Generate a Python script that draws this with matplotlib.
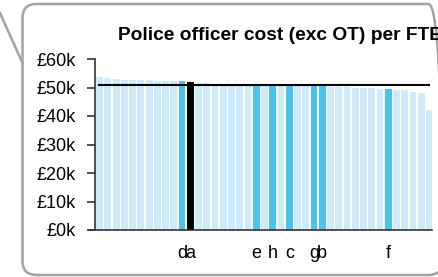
import matplotlib
matplotlib.use("Agg")
import matplotlib.pyplot as plt
from matplotlib.patches import FancyBboxPatch
from matplotlib.lines import Line2D
from matplotlib.transforms import IdentityTransform
import numpy as np

plt.rcParams['font.family'] = ['Liberation Sans', 'DejaVu Sans']

# cost per FTE in £k, sorted high to low
costs = [53.7, 53.2, 53.1, 52.8, 52.6, 52.5, 52.5, 52.4, 52.4, 52.3,
         52.2, 52.0, 51.7, 51.6, 51.4, 51.2, 51.0, 50.9, 50.8, 50.8,
         50.7, 50.7, 50.7, 50.6, 50.6, 50.6, 50.6, 50.5, 50.3, 50.2,
         50.1, 50.0, 49.9, 49.7, 49.6, 49.3, 49.2, 49.0, 48.5, 48.1,
         42.1]
# highlighted forces: position -> label
hl_pos = [10, 11, 19, 21, 23, 26, 27, 35]
hl_lab = ["d", "a", "e", "h", "c", "g", "b", "f"]
selected = 11          # the black bar
average = 50.8

yticks = [0, 10, 20, 30, 40, 50, 60]
ytick_labels = ["£0k", "£10k", "£20k", "£30k", "£40k", "£50k", "£60k"]

LIGHT = "#cdebf8"
DARK = "#4cc3ea"

W, H = 438, 277
fig = plt.figure(figsize=(W / 100, H / 100), dpi=100)
ax = fig.add_axes([95 / W, 1 - 230 / H, (432 - 95) / W, (230 - 59) / H])

x = np.arange(len(costs))
colors = [LIGHT] * len(costs)
for p in hl_pos:
    colors[p] = DARK
colors[selected] = "black"
ax.bar(x, costs, width=0.84, color=colors, linewidth=0)
ax.hlines(average, -0.2, 40, color="black", lw=1.5)

ax.set_xlim(-0.55, 40.3)
ax.set_ylim(0, 60)
ax.set_yticks(yticks)
ax.set_yticklabels(ytick_labels, fontsize=13)
ax.set_xticks(hl_pos)
ax.set_xticklabels(hl_lab, fontsize=13)
ax.tick_params(axis="x", length=0, pad=11)
ax.tick_params(axis="y", length=6, width=1.2, color="#333333", pad=8)
for s in ["top", "right"]:
    ax.spines[s].set_visible(False)
for s in ["left", "bottom"]:
    ax.spines[s].set_color("#333333")
    ax.spines[s].set_linewidth(1.2)
ax.spines["bottom"].set_bounds(-0.55 - 6 / 8.25, 40.3)
ax.spines["bottom"].set_clip_on(False)

fig.text(118 / W, 1 - 35 / H, "Police officer cost (exc OT) per FTE",
         fontsize=13.8, fontweight="bold", ha="left", va="center")

# rounded frame and callout pointer, in pixels
frame = FancyBboxPatch((22.5, 2), 420, 271,
                       boxstyle="round,pad=0,rounding_size=14",
                       transform=IdentityTransform(), fill=False,
                       ec="#a3a3a3", lw=1.8)
fig.add_artist(frame)
fig.add_artist(Line2D([0, 22.5], [H - 13, H - 63], transform=IdentityTransform(),
                      color="#a3a3a3", lw=1.8))

fig.savefig("out.png", dpi=100)
